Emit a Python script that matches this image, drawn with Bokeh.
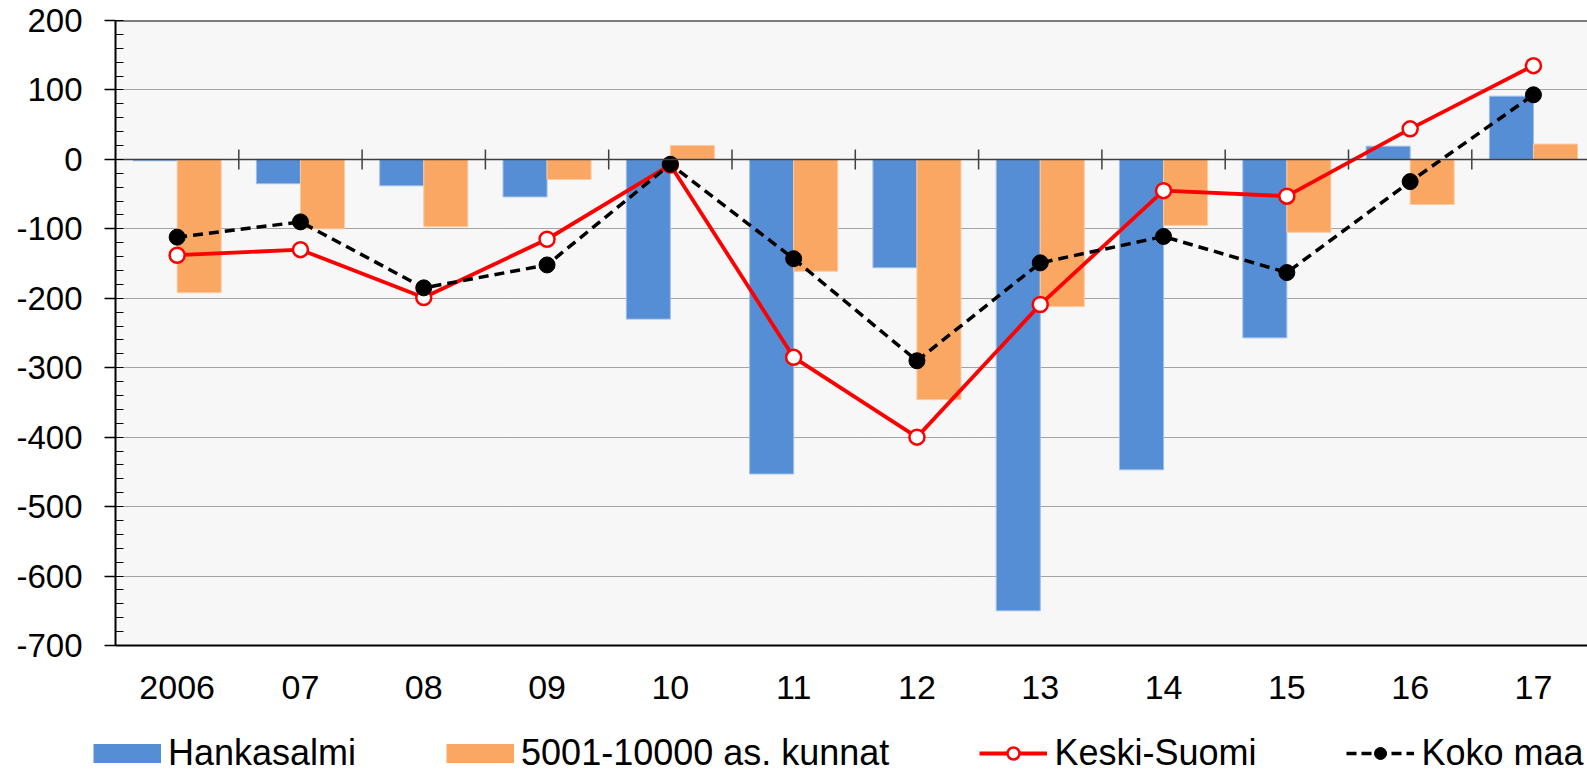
import numpy as np
from bokeh.plotting import figure
from bokeh.layouts import column
from bokeh.models import Range1d, FixedTicker, Span, Legend, LegendItem, ColumnDataSource
from bokeh.transform import dodge
from bokeh.embed import file_html
from bokeh.resources import INLINE

# ---- data ----
years = ["2006", "07", "08", "09", "10", "11", "12", "13", "14", "15", "16", "17"]
hankasalmi = [-2, -35, -38, -54, -230, -453, -156, -650, -447, -257, 19, 91]
kunnat = [-192, -100, -97, -29, 20, -161, -346, -212, -95, -105, -65, 22]
keski_suomi = [-138, -130, -199, -115, -8, -285, -400, -209, -45, -53, 44, 135]
koko_maa = [-112, -90, -185, -152, -7, -143, -290, -149, -111, -163, -32, 93]

y_ticks = list(range(-700, 201, 100))
y_minor = list(range(-700, 201, 20))

FONT = "Liberation Sans"
BLUE = "#558ed5"
ORANGE = "#f9a762"
RED = "#ff0000"

xs = list(range(len(years)))
src = ColumnDataSource(dict(x=xs, hk=hankasalmi, ku=kunnat, ks=keski_suomi, km=koko_maa))

W = 1587
H_MAIN, H_LEG = 717, 57
LEFT, TOP, BOTTOM = 115, 20, 72
frame_w = W - LEFT
cat_px = 123.3

p = figure(width=W, height=H_MAIN, output_backend="svg", toolbar_location=None,
           x_range=Range1d(-0.5, -0.5 + frame_w / cat_px), y_range=Range1d(-700, 200),
           min_border_left=LEFT, min_border_right=0, min_border_top=TOP, min_border_bottom=BOTTOM)
p.frame_align = False
p.background_fill_color = "#f7f7f7"
p.border_fill_color = "white"
p.outline_line_color = None

# grid
p.xgrid.grid_line_color = None
p.ygrid.grid_line_color = "#505050"
p.ygrid.grid_line_dash = "1 1"
p.ygrid.grid_line_width = 1

# y axis
p.yaxis.ticker = FixedTicker(ticks=y_ticks, minor_ticks=y_minor)
p.yaxis.major_label_overrides = {v: str(v) for v in y_ticks}
p.yaxis.axis_line_color = "black"
p.yaxis.axis_line_width = 2
p.yaxis.major_tick_line_color = "black"
p.yaxis.major_tick_line_width = 1.5
p.yaxis.major_tick_out = 11
p.yaxis.major_tick_in = 0
p.yaxis.minor_tick_line_color = "black"
p.yaxis.minor_tick_line_width = 1
p.yaxis.minor_tick_in = 8
p.yaxis.minor_tick_out = 0
p.yaxis.major_label_standoff = 22
p.yaxis.major_label_text_font = FONT
p.yaxis.major_label_text_font_size = "33px"
p.yaxis.major_label_text_color = "black"

# x axis
p.xaxis.ticker = FixedTicker(ticks=xs)
p.xaxis.major_label_overrides = {i: y for i, y in zip(xs, years)}
p.xaxis.major_tick_line_color = None
p.xaxis.minor_tick_line_color = None
p.xaxis.major_tick_out = 0
p.xaxis.major_tick_in = 0
p.xaxis.axis_line_color = "black"
p.xaxis.axis_line_width = 2
p.xaxis.major_label_standoff = 30
p.xaxis.major_label_text_font = FONT
p.xaxis.major_label_text_font_size = "34px"
p.xaxis.major_label_text_color = "black"

# bars
bw = 0.357
p.vbar(x=dodge("x", -bw / 2), top="hk", bottom=0, width=bw, source=src,
       fill_color=BLUE, line_color="#9dbde8", line_width=1)
p.vbar(x=dodge("x", bw / 2), top="ku", bottom=0, width=bw, source=src,
       fill_color=ORANGE, line_color="#fcc9a0", line_width=1)

# zero line + category ticks
p.add_layout(Span(location=0, dimension="width", line_color="#404040", line_width=1.5, level="glyph"))
bounds = [i + 0.5 for i in xs[:-1]]
p.segment(x0=bounds, x1=bounds, y0=[-14.4] * len(bounds), y1=[14.4] * len(bounds),
          line_color="#404040", line_width=1.5)

# top border
p.add_layout(Span(location=200, dimension="width", line_color="black", line_width=2))

# lines
p.line("x", "ks", source=src, line_color=RED, line_width=3.8)
p.scatter("x", "ks", source=src, marker="circle", size=15, fill_color="white",
          line_color=RED, line_width=2.5)
p.line("x", "km", source=src, line_color="black", line_width=3.5, line_dash="10 6")
p.scatter("x", "km", source=src, marker="circle", size=16, fill_color="black",
          line_color="black")

# ---- legend strip ----
q = figure(width=W, height=H_LEG, output_backend="svg", toolbar_location=None,
           x_range=Range1d(0, 1), y_range=Range1d(0, 1),
           x_axis_location=None, y_axis_location=None, min_border=0)
q.frame_align = False
q.outline_line_color = None
q.grid.grid_line_color = None
q.background_fill_color = "white"
q.border_fill_color = "white"

nan = [np.nan]
sw1 = q.line(x=nan, y=nan, line_color=BLUE, line_width=19, line_cap="butt")
sw2 = q.line(x=nan, y=nan, line_color=ORANGE, line_width=19, line_cap="butt")
ql1 = q.line(x=nan, y=nan, line_color=RED, line_width=3.8)
qm1 = q.scatter(x=nan, y=nan, marker="circle", size=14, fill_color="white",
                line_color=RED, line_width=2.5)
ql2 = q.line(x=nan, y=nan, line_color="black", line_width=3.5, line_dash="10 5")
qm2 = q.scatter(x=nan, y=nan, marker="circle", size=15, fill_color="black", line_color="black")

legend = Legend(items=[LegendItem(label="Hankasalmi", renderers=[sw1]),
                       LegendItem(label="5001-10000 as. kunnat", renderers=[sw2]),
                       LegendItem(label="Keski-Suomi", renderers=[ql1, qm1]),
                       LegendItem(label="Koko maa", renderers=[ql2, qm2])],
                orientation="horizontal", location=(93, 0),
                glyph_width=68, glyph_height=30, label_standoff=7, spacing=90,
                padding=0, margin=0, border_line_color=None, background_fill_alpha=0,
                label_text_font=FONT, label_text_font_size="36px", label_text_color="black")
q.add_layout(legend)

layout = column(p, q, spacing=0)
open("out.html", "w").write(file_html(layout, INLINE))
